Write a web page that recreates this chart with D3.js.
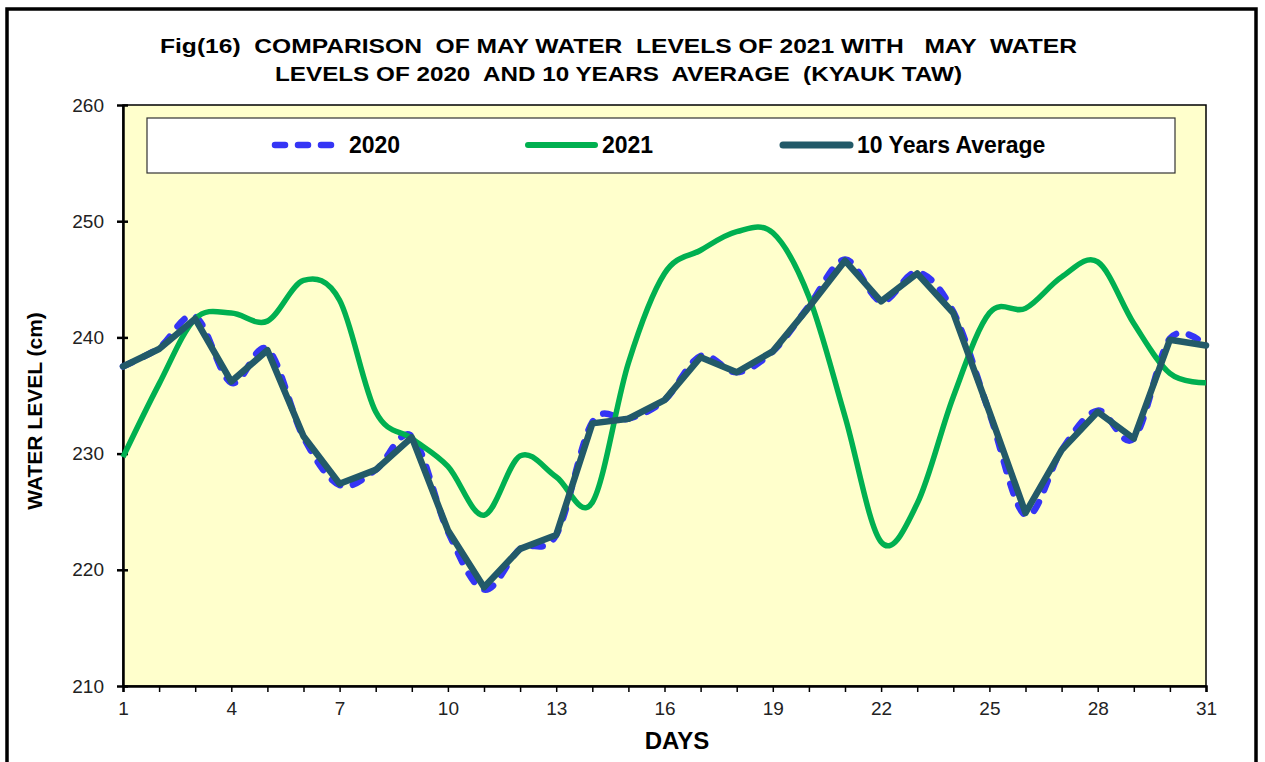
<!DOCTYPE html>
<html>
<head>
<meta charset="utf-8">
<script src="https://cdn.jsdelivr.net/npm/d3@7"></script>
<style>
  html, body { margin: 0; padding: 0; background: #ffffff; }
  svg { display: block; font-family: "Liberation Sans", Arial, sans-serif; }
  text { white-space: pre; }
</style>
</head>
<body>
<svg id="chart" width="1265" height="762"></svg>
<script>
// ---------------- data ----------------
const days = d3.range(1, 32);
const xTickLabels = [1, 4, 7, 10, 13, 16, 19, 22, 25, 28, 31];
const yTickLabels = [210, 220, 230, 240, 250, 260];

const levels2020 = [237.5, 239.1, 241.8, 236.1, 239.0, 231.4, 227.3, 228.6, 231.5, 223.3,
                    218.3, 221.8, 223.0, 232.7, 233.0, 234.6, 238.4, 237.0, 238.8, 242.7,
                    246.7, 243.1, 245.6, 242.2, 233.5, 224.7, 230.3, 233.7, 231.3, 239.9, 239.3];
const levels2021 = [229.7, 236.0, 241.6, 242.1, 241.4, 244.9, 243.2, 233.6, 231.3, 228.9,
                    224.7, 229.8, 228.0, 225.8, 237.8, 245.5, 247.5, 249.1, 249.0, 243.5,
                    233.2, 222.4, 225.7, 234.9, 242.1, 242.5, 245.2, 246.5, 241.2, 236.9, 236.1];
const levelsAvg  = [237.5, 239.0, 241.6, 236.2, 238.9, 231.5, 227.4, 228.6, 231.4, 223.4,
                    218.5, 221.8, 223.0, 232.6, 233.0, 234.6, 238.3, 237.0, 238.8, 242.6,
                    246.6, 243.1, 245.5, 242.1, 233.6, 224.9, 230.3, 233.6, 231.3, 239.8, 239.3];

const seriesNames = ["2020", "2021", "10 Years Average"];
const titleLines = ["Fig(16)  COMPARISON  OF MAY WATER  LEVELS OF 2021 WITH   MAY  WATER",
                    "LEVELS OF 2020  AND 10 YEARS  AVERAGE  (KYAUK TAW)"];

// ---------------- layout ----------------
const svg = d3.select("#chart");
const L = 123, R = 1206, T = 105, B = 686;
const x = d3.scaleLinear().domain([1, 31]).range([L, R]);
const y = d3.scaleLinear().domain([210, 260]).range([B, T]);

const C2020 = "#3535F5", C2021 = "#00B050", CAVG = "#225A69";

// outer frame
svg.append("rect").attr("x", 0).attr("y", 0).attr("width", 1265).attr("height", 762).attr("fill", "#fff");
svg.append("rect").attr("x", 7).attr("y", 9).attr("width", 1249).attr("height", 800)
  .attr("fill", "none").attr("stroke", "#000").attr("stroke-width", 3.5);

// title
const titleG = svg.append("g").attr("font-weight", "bold").attr("font-size", 21).attr("fill", "#000");
titleG.append("text").attr("x", 160).attr("y", 53).attr("textLength", 917)
  .attr("lengthAdjust", "spacingAndGlyphs").text(titleLines[0]);
titleG.append("text").attr("x", 275).attr("y", 81).attr("textLength", 687)
  .attr("lengthAdjust", "spacingAndGlyphs").text(titleLines[1]);

// plot area
svg.append("rect").attr("x", L).attr("y", T).attr("width", R - L).attr("height", B - T)
  .attr("fill", "#FFFFCC").attr("stroke", "#000").attr("stroke-width", 1.5);

// y axis
const yAxis = d3.axisLeft(y).tickValues(yTickLabels).tickSize(0).tickPadding(19).tickFormat(d3.format("d"));
const yG = svg.append("g").attr("transform", `translate(${L},0)`).call(yAxis);
yG.select(".domain").attr("stroke", "#000").attr("stroke-width", 2.5);
yG.selectAll(".tick text").attr("font-size", 19).attr("fill", "#222").attr("font-family", "Liberation Sans, Arial, sans-serif");
yG.selectAll(".tick").append("line").attr("x1", -6).attr("x2", 5).attr("stroke", "#000").attr("stroke-width", 2.5);

// x axis
const xAxis = d3.axisBottom(x).tickValues(days).tickSize(6).tickPadding(10)
  .tickFormat(d => xTickLabels.includes(d) ? d : "");
const xG = svg.append("g").attr("transform", `translate(0,${B})`).call(xAxis);
xG.select(".domain").attr("stroke", "#000").attr("stroke-width", 2.5);
xG.selectAll(".tick line").attr("stroke", "#000").attr("stroke-width", 1.5);
xG.selectAll(".tick text").attr("font-size", 19).attr("fill", "#222").attr("font-family", "Liberation Sans, Arial, sans-serif");

// axis titles
svg.append("text").attr("x", 677).attr("y", 749).attr("text-anchor", "middle")
  .attr("font-weight", "bold").attr("font-size", 24).attr("fill", "#000").text("DAYS");
svg.append("text").attr("transform", "translate(42,411) rotate(-90)").attr("text-anchor", "middle")
  .attr("font-weight", "bold").attr("font-size", 21).attr("fill", "#000").text("WATER LEVEL (cm)");

// lines
const smooth = d3.line().x((d, i) => x(days[i])).y(d => y(d)).curve(d3.curveCardinal.tension(0));
const straight = d3.line().x((d, i) => x(days[i])).y(d => y(d)).curve(d3.curveLinear);

const plotG = svg.append("g");
plotG.append("path").attr("d", smooth(levels2020)).attr("fill", "none")
  .attr("stroke", C2020).attr("stroke-width", 6.5).attr("stroke-dasharray", "10,13").attr("stroke-linecap", "round");
plotG.append("path").attr("d", smooth(levels2021)).attr("fill", "none")
  .attr("stroke", C2021).attr("stroke-width", 5.5).attr("stroke-linejoin", "round");
plotG.append("path").attr("d", straight(levelsAvg)).attr("fill", "none")
  .attr("stroke", CAVG).attr("stroke-width", 6.5).attr("stroke-linejoin", "round").attr("stroke-linecap", "round");

// legend
svg.append("rect").attr("x", 147).attr("y", 118).attr("width", 1028).attr("height", 55)
  .attr("fill", "#fff").attr("stroke", "#333").attr("stroke-width", 1.2);
const legItems = [
  {name: seriesNames[0], color: C2020, x0: 275, dash: "10,13", w: 6.5, cap: "round"},
  {name: seriesNames[1], color: C2021, x0: 528, dash: null, w: 6, cap: "round"},
  {name: seriesNames[2], color: CAVG, x0: 783, dash: null, w: 7, cap: "round"}
];
const legG = svg.append("g");
legItems.forEach(it => {
  legG.append("line").attr("x1", it.x0).attr("x2", it.x0 + 67).attr("y1", 145).attr("y2", 145)
    .attr("stroke", it.color).attr("stroke-width", it.w).attr("stroke-linecap", it.cap)
    .attr("stroke-dasharray", it.dash);
  legG.append("text").attr("x", it.x0 + 74).attr("y", 153).attr("font-weight", "bold")
    .attr("font-size", 23).attr("fill", "#000").text(it.name);
});
</script>
</body>
</html>
